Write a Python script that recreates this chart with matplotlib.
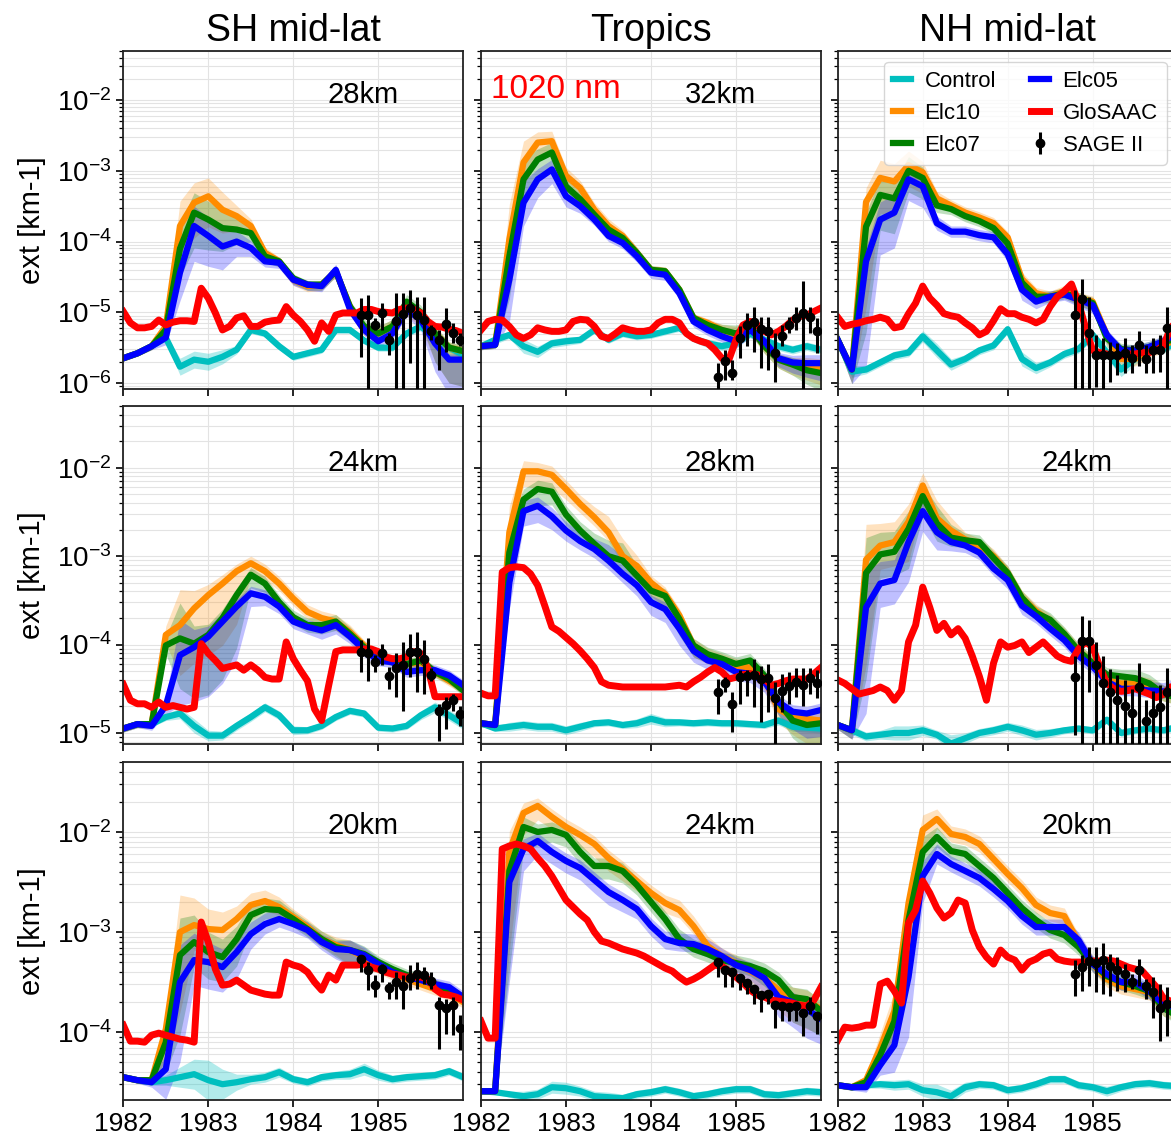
import numpy as np
import matplotlib
matplotlib.use('Agg')
import matplotlib.pyplot as plt

plt.rcParams['font.family'] = ['Liberation Sans', 'DejaVu Sans']
plt.rcParams['mathtext.fontset'] = 'dejavusans'

# ---- data: log10 of extinction [km-1] ----
# model runs every 2 months (Jan 1982 .. Jan 1986), GloSAAC monthly, SAGE II monthly Oct 1984 - Dec 1985
years_model = 1982 + np.arange(25) * 2 / 12
years_glo = 1982 + np.arange(49) / 12
years_sage = 1984 + (np.arange(15) + 9.5) / 12

regions = ['SH mid-lat', 'Tropics', 'NH mid-lat']

# --- SH mid-lat 28km ---
elc10_sh28 = [-5.65,-5.58,-5.48,-5.20,-3.78,-3.45,-3.36,-3.55,-3.64,-3.78,-4.16,-4.28,-4.54,-4.63,-4.61,-4.42,-4.92,-5.25,-5.30,-5.20,-4.95,-5.05,-5.30,-5.50,-5.55]
elc07_sh28 = [-5.65,-5.58,-5.48,-5.25,-4.10,-3.59,-3.69,-3.81,-3.83,-3.88,-4.21,-4.28,-4.52,-4.61,-4.61,-4.42,-4.92,-5.20,-5.30,-5.20,-4.85,-5.00,-5.30,-5.50,-5.55]
elc05_sh28 = [-5.65,-5.58,-5.48,-5.36,-4.44,-3.78,-3.92,-4.07,-4.00,-4.09,-4.28,-4.30,-4.54,-4.61,-4.63,-4.40,-4.96,-5.25,-5.41,-5.30,-4.96,-5.11,-5.44,-5.67,-5.67]
ctrl_sh28 = [-5.65,-5.58,-5.48,-5.36,-5.77,-5.67,-5.70,-5.63,-5.53,-5.25,-5.30,-5.48,-5.63,-5.58,-5.53,-5.25,-5.25,-5.40,-5.50,-5.50,-5.30,-5.20,-5.35,-5.50,-5.60]
glo_sh28 = [-4.99,-5.15,-5.22,-5.22,-5.20,-5.11,-5.18,-5.14,-5.12,-5.12,
            -5.13,-4.66,-4.80,-5.01,-5.25,-5.20,-5.08,-5.05,-5.20,-5.20,
            -5.14,-5.12,-5.11,-4.92,-5.04,-5.13,-5.25,-5.41,-5.15,-5.27,
            -5.04,-5.01,-5.01,-5.01,-4.96,-4.96,-4.99,-5.00,-5.01,-4.96,
            -4.94,-4.96,-5.01,-5.13,-5.20,-5.21,-5.24,-5.26,-5.30]
up_sh28 = [0.04,0.04,0.05,0.08,0.35,0.28,0.26,0.25,0.15,0.1,0.08,0.06,0.06,0.06,0.06,0.08,0.08,0.1,0.1,0.1,0.1,0.1,0.1,0.08,0.08]
dn_sh28 = [0.04,0.04,0.05,0.1,0.4,0.5,0.43,0.33,0.21,0.12,0.08,0.08,0.08,0.08,0.08,0.08,0.08,0.08,0.08,0.08,0.1,0.15,0.4,0.5,0.5]
csp_sh28 = [0.03,0.03,0.03,0.05,0.12,0.12,0.12,0.1,0.06,0.05,0.05,0.05,0.05,0.05,0.05,0.05,0.05,0.05,0.05,0.05,0.05,0.06,0.06,0.06,0.06]
sage_sh28 = [-5.04,-5.04,-5.18,-5.01,-5.39,-5.13,-5.02,-4.94,-5.04,-5.11,-5.27,-5.39,-5.16,-5.30,-5.39]
sage_hi_sh28 = [-4.80,-4.75,-5.08,-4.87,-5.30,-4.73,-4.73,-4.68,-4.78,-4.78,-5.18,-5.25,-4.94,-5.15,-5.30]
sage_lo_sh28 = [-5.63,-7,-5.25,-5.25,-5.60,-7,-7,-5.72,-7,-7,-5.39,-5.82,-5.56,-5.44,-5.48]  # -7: bar runs off the axis

# --- Tropics 32km ---
elc10_tr32 = [-5.48,-5.46,-3.97,-2.88,-2.60,-2.58,-3.07,-3.24,-3.55,-3.78,-3.92,-4.16,-4.40,-4.42,-4.68,-5.08,-5.15,-5.25,-5.32,-5.20,-5.48,-5.67,-5.74,-5.76,-5.78]
elc07_tr32 = [-5.48,-5.46,-4.21,-3.12,-2.84,-2.74,-3.22,-3.40,-3.62,-3.83,-3.95,-4.16,-4.40,-4.42,-4.68,-5.08,-5.18,-5.25,-5.30,-5.20,-5.48,-5.67,-5.74,-5.82,-5.86]
elc05_tr32 = [-5.48,-5.46,-4.54,-3.45,-3.12,-2.98,-3.36,-3.50,-3.69,-3.92,-4.02,-4.21,-4.44,-4.47,-4.73,-5.13,-5.25,-5.34,-5.41,-5.25,-5.41,-5.65,-5.71,-5.72,-5.72]
ctrl_tr32 = [-5.48,-5.39,-5.32,-5.48,-5.56,-5.44,-5.41,-5.39,-5.25,-5.39,-5.30,-5.34,-5.32,-5.27,-5.22,-5.37,-5.44,-5.48,-5.44,-5.30,-5.39,-5.48,-5.53,-5.48,-5.53]
glo_tr32 = [-5.25,-5.13,-5.10,-5.11,-5.20,-5.32,-5.37,-5.32,-5.22,-5.25,
            -5.27,-5.27,-5.25,-5.13,-5.10,-5.11,-5.20,-5.34,-5.37,-5.30,
            -5.22,-5.25,-5.27,-5.27,-5.25,-5.15,-5.10,-5.10,-5.15,-5.30,
            -5.37,-5.41,-5.44,-5.53,-5.65,-5.67,-5.39,-5.18,-5.13,-5.18,
            -5.27,-5.32,-5.27,-5.20,-5.11,-5.06,-5.04,-4.99,-4.94]
up_tr32 = [0.04,0.04,0.5,0.3,0.15,0.14,0.12,0.1,0.1,0.1,0.08,0.08,0.06,0.06,0.06,0.06,0.06,0.08,0.12,0.08,0.08,0.08,0.1,0.12,0.12]
dn_tr32 = [0.05,0.05,0.6,0.33,0.26,0.2,0.15,0.1,0.08,0.08,0.08,0.08,0.08,0.08,0.08,0.08,0.08,0.08,0.1,0.1,0.1,0.12,0.15,0.2,0.25]
csp_tr32 = [0.04,0.06,0.05,0.1,0.08,0.06,0.06,0.05,0.05,0.05,0.05,0.05,0.05,0.05,0.05,0.05,0.06,0.06,0.06,0.06,0.06,0.06,0.06,0.06,0.06]
sage_tr32 = [-5.91,-5.69,-5.86,-5.37,-5.18,-5.14,-5.24,-5.27,-5.58,-5.34,-5.18,-5.08,-5.01,-5.06,-5.27]
sage_hi_tr32 = [-5.72,-5.53,-5.67,-5.20,-5.01,-4.92,-5.06,-5.06,-5.30,-5.18,-5.06,-4.92,-4.56,-4.92,-5.08]
sage_lo_tr32 = [-7,-5.96,-5.96,-5.65,-5.48,-5.56,-5.79,-5.82,-5.98,-5.48,-5.30,-5.25,-7,-5.30,-5.58]

# --- NH mid-lat, top row ---
elc10_nh32 = [-5.39,-5.81,-3.44,-3.10,-3.15,-2.92,-3.02,-3.39,-3.49,-3.59,-3.66,-3.74,-3.94,-4.53,-4.73,-4.78,-4.70,-4.80,-4.85,-5.32,-5.66,-5.66,-5.54,-5.47,-5.37]
elc07_nh32 = [-5.39,-5.81,-3.79,-3.34,-3.39,-3.00,-3.10,-3.49,-3.54,-3.64,-3.71,-3.81,-4.03,-4.58,-4.78,-4.78,-4.73,-4.80,-4.87,-5.37,-5.52,-5.54,-5.49,-5.42,-5.37]
elc05_nh32 = [-5.39,-5.81,-4.28,-3.69,-3.59,-3.12,-3.22,-3.74,-3.86,-3.86,-3.91,-3.94,-4.18,-4.68,-4.85,-4.78,-4.75,-4.82,-4.90,-5.32,-5.54,-5.54,-5.49,-5.41,-5.29]
ctrl_nh32 = [-5.39,-5.84,-5.81,-5.71,-5.61,-5.57,-5.34,-5.54,-5.74,-5.66,-5.54,-5.47,-5.24,-5.66,-5.79,-5.71,-5.59,-5.52,-5.32,-5.57,-5.81,-5.66,-5.54,-5.52,-5.42]
glo_nh32 = [-5.07,-5.20,-5.17,-5.15,-5.12,-5.10,-5.07,-5.10,-5.22,-5.20,
            -5.02,-4.87,-4.63,-4.80,-4.90,-5.02,-5.05,-5.07,-5.15,-5.22,
            -5.32,-5.27,-5.12,-4.95,-5.02,-5.02,-5.07,-5.10,-5.15,-5.10,
            -4.92,-4.78,-4.70,-4.60,-4.87,-5.22,-5.54,-5.57,-5.59,-5.61,
            -5.61,-5.59,-5.59,-5.57,-5.57,-5.54,-5.47,-5.22,-5.12]
up_nh32 = [0.05,0.05,0.2,0.25,0.25,0.2,0.15,0.1,0.08,0.08,0.08,0.08,0.08,0.1,0.08,0.08,0.08,0.08,0.08,0.08,0.08,0.08,0.08,0.08,0.08]
dn_nh32 = [0.08,0.2,1.5,0.5,0.5,0.3,0.3,0.1,0.08,0.08,0.08,0.08,0.1,0.15,0.1,0.08,0.08,0.1,0.12,0.12,0.1,0.1,0.1,0.1,0.1]
csp_nh32 = [0.05,0.08,0.06,0.06,0.06,0.06,0.08,0.1,0.08,0.06,0.06,0.06,0.06,0.1,0.08,0.06,0.06,0.06,0.06,0.08,0.1,0.08,0.06,0.06,0.06]
sage_nh32 = [-5.04,-4.81,-5.29,-5.61,-5.61,-5.61,-5.61,-5.57,-5.64,-5.47,-5.66,-5.53,-5.53,-5.22,-5.22]
sage_hi_nh32 = [-4.68,-4.53,-4.78,-5.32,-5.37,-5.42,-5.44,-5.37,-5.47,-5.27,-5.47,-5.37,-5.32,-4.92,-4.92]
sage_lo_nh32 = [-7,-7,-7,-6.06,-6.16,-5.99,-5.89,-5.86,-5.86,-5.76,-5.86,-5.86,-5.84,-7,-7]

# --- SH mid-lat 24km ---
elc10_sh24 = [-4.95,-4.90,-4.90,-3.89,-3.78,-3.59,-3.44,-3.31,-3.17,-3.08,-3.17,-3.31,-3.48,-3.63,-3.70,-3.74,-3.86,-4.01,-4.12,-4.18,-4.22,-4.20,-4.31,-4.41,-4.50]
elc07_sh24 = [-4.95,-4.90,-4.90,-4.01,-3.93,-3.99,-3.89,-3.70,-3.44,-3.21,-3.31,-3.52,-3.69,-3.78,-3.78,-3.74,-3.88,-4.03,-4.14,-4.18,-4.22,-4.18,-4.31,-4.39,-4.52]
elc05_sh24 = [-4.95,-4.90,-4.92,-4.69,-4.12,-4.03,-3.91,-3.74,-3.57,-3.42,-3.46,-3.57,-3.74,-3.80,-3.84,-3.78,-3.91,-4.06,-4.18,-4.20,-4.31,-4.29,-4.29,-4.35,-4.46]
ctrl_sh24 = [-4.95,-4.90,-4.90,-4.82,-4.78,-4.92,-5.03,-5.03,-4.92,-4.82,-4.71,-4.80,-4.97,-4.97,-4.92,-4.82,-4.75,-4.78,-4.94,-4.95,-4.92,-4.80,-4.71,-4.80,-4.90]
glo_sh24 = [-4.45,-4.63,-4.67,-4.67,-4.71,-4.65,-4.71,-4.69,-4.71,-4.73,
            -4.71,-3.99,-4.10,-4.18,-4.27,-4.25,-4.23,-4.29,-4.23,-4.29,
            -4.37,-4.39,-4.39,-3.97,-4.16,-4.29,-4.41,-4.73,-4.86,-4.46,
            -4.08,-4.06,-4.06,-4.06,-4.05,-4.05,-4.08,-4.14,-4.16,-4.16,
            -4.14,-4.08,-4.10,-4.27,-4.59,-4.59,-4.59,-4.59,-4.59]
up_sh24 = [0.03,0.03,0.03,0.1,0.4,0.2,0.12,0.1,0.08,0.08,0.08,0.08,0.08,0.08,0.08,0.08,0.08,0.06,0.06,0.06,0.06,0.06,0.06,0.06,0.06]
dn_sh24 = [0.04,0.04,0.05,0.1,0.57,0.62,0.68,0.7,0.6,0.15,0.1,0.08,0.08,0.08,0.1,0.1,0.08,0.08,0.06,0.06,0.06,0.06,0.06,0.06,0.06]
csp_sh24 = [0.03,0.03,0.03,0.04,0.06,0.08,0.06,0.05,0.05,0.05,0.05,0.05,0.05,0.04,0.04,0.04,0.04,0.04,0.04,0.04,0.04,0.05,0.06,0.06,0.06]
sage_sh24 = [-4.08,-4.10,-4.20,-4.09,-4.35,-4.27,-4.23,-4.08,-4.08,-4.16,-4.34,-4.75,-4.68,-4.63,-4.78]
sage_hi_sh24 = [-3.95,-3.93,-4.12,-3.99,-4.25,-4.10,-3.97,-3.88,-3.86,-3.95,-4.27,-4.67,-4.59,-4.56,-4.69]
sage_lo_sh24 = [-4.31,-4.41,-4.31,-4.23,-4.50,-4.59,-4.75,-4.37,-4.54,-4.56,-4.41,-5.09,-4.95,-4.75,-4.92]

# --- Tropics 28km ---
elc10_tr28 = [-4.89,-4.91,-2.73,-2.04,-2.04,-2.08,-2.24,-2.41,-2.56,-2.73,-3.00,-3.11,-3.30,-3.43,-3.67,-4.01,-4.12,-4.18,-4.24,-4.26,-4.39,-4.73,-4.82,-4.84,-4.86]
elc07_tr28 = [-4.89,-4.91,-2.96,-2.36,-2.24,-2.27,-2.53,-2.71,-2.86,-3.00,-3.05,-3.22,-3.39,-3.45,-3.71,-4.01,-4.11,-4.16,-4.22,-4.18,-4.35,-4.65,-4.86,-4.91,-4.89]
elc05_tr28 = [-4.89,-4.91,-3.30,-2.49,-2.43,-2.55,-2.71,-2.83,-2.92,-3.05,-3.20,-3.33,-3.52,-3.60,-3.82,-4.07,-4.18,-4.22,-4.31,-4.33,-4.42,-4.65,-4.76,-4.78,-4.74]
ctrl_tr28 = [-4.89,-4.95,-4.93,-4.91,-4.93,-4.93,-4.97,-4.93,-4.89,-4.88,-4.91,-4.89,-4.84,-4.88,-4.88,-4.89,-4.88,-4.89,-4.89,-4.90,-4.91,-4.86,-4.93,-4.94,-4.95]
glo_tr28 = [-4.55,-4.58,-4.58,-3.18,-3.13,-3.12,-3.13,-3.20,-3.33,-3.56,
            -3.80,-3.85,-3.92,-3.99,-4.07,-4.16,-4.26,-4.42,-4.46,-4.47,
            -4.48,-4.48,-4.48,-4.48,-4.48,-4.48,-4.48,-4.47,-4.46,-4.48,
            -4.42,-4.37,-4.31,-4.26,-4.31,-4.39,-4.37,-4.34,-4.33,-4.34,
            -4.39,-4.46,-4.44,-4.41,-4.39,-4.39,-4.39,-4.33,-4.26]
up_tr28 = [0.04,0.04,0.3,0.12,0.1,0.1,0.1,0.1,0.12,0.18,0.2,0.12,0.08,0.08,0.08,0.08,0.08,0.08,0.08,0.08,0.08,0.08,0.08,0.08,0.08]
dn_tr28 = [0.04,0.04,0.3,0.17,0.19,0.15,0.12,0.1,0.1,0.1,0.1,0.12,0.15,0.15,0.19,0.13,0.1,0.1,0.1,0.1,0.12,0.15,0.2,0.28,0.3]
csp_tr28 = [0.03,0.03,0.05,0.05,0.05,0.05,0.05,0.05,0.04,0.04,0.04,0.05,0.06,0.05,0.04,0.04,0.04,0.04,0.04,0.04,0.04,0.05,0.05,0.05,0.05]
sage_tr28 = [-4.54,-4.43,-4.67,-4.37,-4.35,-4.34,-4.39,-4.38,-4.61,-4.52,-4.47,-4.42,-4.46,-4.38,-4.44]
sage_hi_tr28 = [-4.39,-4.37,-4.54,-4.29,-4.29,-4.16,-4.24,-4.22,-4.42,-4.33,-4.31,-4.26,-4.27,-4.26,-4.29]
sage_lo_tr28 = [-4.78,-4.54,-4.99,-4.67,-4.58,-4.71,-4.88,-4.76,-7,-4.76,-4.67,-4.59,-4.69,-4.56,-4.61]

# --- NH mid-lat 24km ---
elc10_nh24 = [-4.91,-4.97,-3.04,-2.88,-2.84,-2.61,-2.20,-2.57,-2.71,-2.81,-2.88,-3.00,-3.19,-3.47,-3.62,-3.74,-3.89,-4.07,-4.21,-4.40,-4.44,-4.44,-4.48,-4.56,-4.60]
elc07_nh24 = [-4.91,-4.97,-3.19,-2.98,-2.95,-2.69,-2.32,-2.63,-2.79,-2.82,-2.84,-3.02,-3.19,-3.47,-3.64,-3.72,-3.88,-4.07,-4.21,-4.34,-4.36,-4.38,-4.44,-4.56,-4.60]
elc05_nh24 = [-4.91,-4.97,-3.58,-3.31,-3.27,-2.84,-2.49,-2.73,-2.84,-2.88,-2.96,-3.14,-3.27,-3.56,-3.68,-3.82,-3.95,-4.13,-4.25,-4.42,-4.50,-4.50,-4.52,-4.53,-4.48]
ctrl_nh24 = [-4.91,-4.97,-5.04,-5.02,-5.00,-5.00,-4.97,-5.02,-5.12,-5.06,-5.00,-4.97,-4.93,-4.97,-5.02,-5.00,-4.97,-4.95,-4.97,-4.85,-5.00,-4.97,-4.95,-4.97,-4.93]
glo_nh24 = [-4.40,-4.44,-4.50,-4.56,-4.54,-4.52,-4.48,-4.52,-4.63,-4.52,
            -3.97,-3.78,-3.35,-3.58,-3.84,-3.76,-3.89,-3.82,-3.93,-4.13,
            -4.36,-4.63,-4.21,-3.97,-4.03,-4.01,-3.97,-4.09,-4.03,-3.97,
            -4.05,-4.13,-4.17,-4.19,-4.05,-3.97,-4.03,-4.25,-4.44,-4.50,
            -4.53,-4.52,-4.50,-4.53,-4.56,-4.60,-4.56,-4.48,-4.46]
up_nh24 = [0.04,0.04,0.4,0.25,0.23,0.2,0.14,0.2,0.15,0.08,0.08,0.08,0.08,0.08,0.08,0.08,0.08,0.08,0.08,0.08,0.08,0.1,0.1,0.1,0.1]
dn_nh24 = [0.05,0.1,1.2,0.27,0.27,0.45,0.23,0.2,0.1,0.08,0.08,0.08,0.1,0.1,0.08,0.08,0.08,0.08,0.08,0.08,0.08,0.08,0.08,0.08,0.08]
csp_nh24 = [0.03,0.05,0.05,0.05,0.08,0.08,0.06,0.05,0.1,0.06,0.05,0.05,0.05,0.06,0.06,0.05,0.04,0.04,0.04,0.04,0.04,0.04,0.04,0.04,0.04]
sage_nh24 = [-4.37,-3.96,-3.96,-4.23,-4.44,-4.54,-4.63,-4.69,-4.77,-4.48,-4.87,-4.77,-4.71,-4.54,-4.54]
sage_hi_nh24 = [-4.13,-3.68,-3.72,-3.97,-4.13,-4.28,-4.34,-4.40,-4.50,-4.21,-4.63,-4.52,-4.46,-4.26,-4.26]
sage_lo_nh24 = [-5.02,-7,-4.54,-7,-7,-7,-7,-7,-7,-7,-5.12,-7,-7,-7,-7]

# --- SH mid-lat 20km ---
elc10_sh20 = [-4.45,-4.48,-4.48,-3.97,-3.00,-2.93,-2.97,-2.98,-2.87,-2.73,-2.69,-2.75,-2.85,-2.95,-3.07,-3.13,-3.18,-3.25,-3.33,-3.42,-3.47,-3.52,-3.57,-3.62,-3.70]
elc07_sh20 = [-4.45,-4.48,-4.48,-4.10,-3.23,-3.10,-3.20,-3.25,-3.07,-2.83,-2.77,-2.78,-2.87,-2.97,-3.07,-3.15,-3.18,-3.22,-3.30,-3.37,-3.43,-3.47,-3.53,-3.58,-3.68]
elc05_sh20 = [-4.45,-4.48,-4.50,-4.37,-3.50,-3.28,-3.30,-3.35,-3.20,-3.02,-2.92,-2.87,-2.92,-2.98,-3.10,-3.17,-3.18,-3.23,-3.32,-3.40,-3.45,-3.48,-3.52,-3.55,-3.65]
ctrl_sh20 = [-4.45,-4.48,-4.50,-4.48,-4.45,-4.42,-4.48,-4.52,-4.50,-4.47,-4.45,-4.40,-4.47,-4.50,-4.45,-4.43,-4.42,-4.37,-4.43,-4.47,-4.45,-4.44,-4.43,-4.39,-4.45]
glo_sh20 = [-3.93,-4.09,-4.09,-4.10,-4.03,-4.01,-4.03,-4.05,-4.07,-4.08,
            -4.10,-2.90,-3.10,-3.37,-3.53,-3.52,-3.48,-3.53,-3.58,-3.60,
            -3.62,-3.63,-3.63,-3.30,-3.33,-3.35,-3.40,-3.50,-3.58,-3.43,
            -3.48,-3.33,-3.33,-3.33,-3.32,-3.35,-3.37,-3.40,-3.42,-3.43,
            -3.45,-3.45,-3.45,-3.47,-3.57,-3.62,-3.63,-3.65,-3.68]
up_sh20 = [0.03,0.03,0.03,0.15,0.37,0.27,0.2,0.18,0.13,0.12,0.11,0.1,0.08,0.08,0.08,0.08,0.1,0.08,0.06,0.06,0.06,0.06,0.06,0.06,0.06]
dn_sh20 = [0.03,0.03,0.05,0.3,0.8,0.25,0.27,0.25,0.27,0.15,0.1,0.08,0.08,0.08,0.08,0.1,0.15,0.12,0.08,0.06,0.06,0.06,0.06,0.06,0.06]
csp_sh20 = [0.02,0.02,0.03,0.05,0.1,0.15,0.2,0.15,0.08,0.05,0.05,0.05,0.04,0.04,0.04,0.04,0.05,0.06,0.05,0.04,0.04,0.04,0.04,0.04,0.04]
sage_sh20 = [-3.27,-3.38,-3.53,-3.37,-3.56,-3.50,-3.54,-3.46,-3.42,-3.43,-3.49,-3.73,-3.76,-3.73,-3.96]
sage_hi_sh20 = [-3.23,-3.30,-3.43,-3.32,-3.50,-3.40,-3.43,-3.33,-3.30,-3.35,-3.40,-3.65,-3.67,-3.65,-3.83]
sage_lo_sh20 = [-3.40,-3.58,-3.65,-3.50,-3.67,-3.67,-3.77,-3.58,-3.57,-3.52,-3.57,-4.17,-4.02,-4.03,-4.18]

# --- Tropics 24km ---
elc10_tr24 = [-4.59,-4.59,-2.19,-1.81,-1.74,-1.85,-1.95,-2.03,-2.12,-2.26,-2.37,-2.49,-2.61,-2.71,-2.78,-2.94,-3.14,-3.24,-3.31,-3.39,-3.46,-3.58,-3.65,-3.68,-3.77]
elc07_tr24 = [-4.59,-4.59,-2.39,-1.95,-2.00,-1.98,-2.03,-2.20,-2.34,-2.34,-2.39,-2.53,-2.70,-2.87,-3.07,-3.17,-3.22,-3.28,-3.31,-3.34,-3.39,-3.48,-3.65,-3.67,-3.79]
elc05_tr24 = [-4.59,-4.59,-2.50,-2.17,-2.09,-2.20,-2.29,-2.36,-2.48,-2.60,-2.68,-2.77,-2.94,-3.07,-3.11,-3.12,-3.17,-3.24,-3.33,-3.38,-3.46,-3.65,-3.70,-3.77,-3.87]
ctrl_tr24 = [-4.59,-4.60,-4.62,-4.64,-4.62,-4.55,-4.56,-4.59,-4.64,-4.65,-4.66,-4.62,-4.60,-4.57,-4.60,-4.64,-4.62,-4.59,-4.57,-4.57,-4.62,-4.63,-4.61,-4.59,-4.60]
glo_tr24 = [-3.89,-4.06,-4.06,-2.17,-2.14,-2.12,-2.14,-2.17,-2.26,-2.34,
            -2.44,-2.56,-2.68,-2.75,-2.82,-2.88,-3.00,-3.09,-3.11,-3.14,
            -3.17,-3.19,-3.21,-3.24,-3.28,-3.32,-3.36,-3.39,-3.45,-3.50,
            -3.47,-3.43,-3.38,-3.33,-3.34,-3.39,-3.45,-3.51,-3.58,-3.63,
            -3.65,-3.68,-3.69,-3.70,-3.71,-3.73,-3.74,-3.68,-3.55]
up_tr24 = [0.03,0.03,0.2,0.1,0.08,0.08,0.08,0.08,0.08,0.08,0.08,0.08,0.08,0.08,0.1,0.1,0.1,0.08,0.08,0.08,0.08,0.08,0.1,0.1,0.1]
dn_tr24 = [0.03,0.03,1.0,0.22,0.14,0.12,0.12,0.12,0.13,0.13,0.12,0.1,0.1,0.1,0.08,0.08,0.08,0.08,0.08,0.1,0.15,0.2,0.25,0.29,0.25]
csp_tr24 = [0.02,0.02,0.03,0.05,0.05,0.06,0.06,0.05,0.05,0.05,0.04,0.04,0.04,0.04,0.04,0.04,0.04,0.04,0.04,0.04,0.04,0.04,0.04,0.04,0.04]
sage_tr24 = [-3.30,-3.38,-3.40,-3.46,-3.51,-3.57,-3.63,-3.62,-3.73,-3.74,-3.75,-3.74,-3.81,-3.74,-3.84]
sage_hi_tr24 = [-3.28,-3.36,-3.38,-3.44,-3.49,-3.55,-3.61,-3.60,-3.71,-3.72,-3.73,-3.72,-3.79,-3.65,-3.82]
sage_lo_tr24 = [-3.45,-3.55,-3.55,-3.58,-3.62,-3.72,-3.80,-3.72,-3.96,-3.89,-3.89,-3.89,-4.04,-3.82,-4.02]

# --- NH mid-lat 20km ---
elc10_nh20 = [-4.53,-4.55,-4.48,-4.16,-3.79,-2.71,-1.98,-1.87,-2.02,-2.05,-2.12,-2.27,-2.42,-2.56,-2.73,-2.81,-2.84,-3.10,-3.32,-3.47,-3.54,-3.57,-3.60,-3.76,-3.81]
elc07_nh20 = [-4.53,-4.55,-4.50,-4.23,-3.89,-2.88,-2.20,-2.05,-2.19,-2.22,-2.34,-2.46,-2.61,-2.76,-2.88,-2.98,-3.03,-3.15,-3.32,-3.44,-3.50,-3.54,-3.59,-3.76,-3.84]
elc05_nh20 = [-4.53,-4.55,-4.55,-4.33,-4.13,-3.45,-2.44,-2.22,-2.32,-2.39,-2.46,-2.57,-2.69,-2.84,-2.95,-2.95,-2.95,-3.08,-3.32,-3.42,-3.50,-3.50,-3.59,-3.72,-3.76]
ctrl_nh20 = [-4.53,-4.55,-4.53,-4.52,-4.53,-4.52,-4.58,-4.60,-4.64,-4.55,-4.52,-4.53,-4.58,-4.56,-4.52,-4.47,-4.47,-4.53,-4.55,-4.59,-4.55,-4.52,-4.51,-4.53,-4.54]
glo_nh20 = [-4.08,-3.95,-3.96,-3.95,-3.93,-3.93,-3.52,-3.49,-3.59,-3.71,
            -2.91,-2.78,-2.49,-2.61,-2.76,-2.86,-2.81,-2.68,-2.71,-2.98,
            -3.15,-3.25,-3.32,-3.18,-3.25,-3.28,-3.38,-3.30,-3.27,-3.22,
            -3.20,-3.27,-3.29,-3.30,-3.30,-3.30,-3.29,-3.29,-3.28,-3.29,
            -3.32,-3.35,-3.37,-3.39,-3.47,-3.55,-3.66,-3.69,-3.72]
up_nh20 = [0.03,0.03,0.05,0.15,0.2,0.17,0.15,0.1,0.08,0.08,0.08,0.08,0.08,0.08,0.08,0.08,0.08,0.08,0.08,0.08,0.08,0.08,0.08,0.08,0.08]
dn_nh20 = [0.03,0.03,0.05,0.1,0.27,0.6,0.27,0.1,0.08,0.08,0.08,0.08,0.08,0.08,0.08,0.08,0.08,0.08,0.08,0.08,0.08,0.08,0.08,0.08,0.08]
csp_nh20 = [0.02,0.03,0.03,0.04,0.05,0.05,0.06,0.08,0.06,0.05,0.04,0.04,0.04,0.04,0.04,0.04,0.04,0.04,0.04,0.05,0.04,0.04,0.04,0.04,0.04]
sage_nh20 = [-3.42,-3.35,-3.29,-3.31,-3.28,-3.34,-3.38,-3.42,-3.50,-3.38,-3.54,-3.60,-3.76,-3.72,-3.72]
sage_hi_nh20 = [-3.28,-3.23,-3.15,-3.15,-3.11,-3.22,-3.25,-3.32,-3.42,-3.27,-3.47,-3.45,-3.52,-3.55,-3.55]
sage_lo_nh20 = [-3.64,-3.59,-3.54,-3.60,-3.62,-3.64,-3.59,-3.60,-3.57,-3.54,-3.67,-3.86,-4.09,-4.04,-4.04]

# panel table built from the lists above (row by row)
panels = [
    [('28km', elc10_sh28, elc07_sh28, elc05_sh28, ctrl_sh28, glo_sh28, up_sh28, dn_sh28, csp_sh28, sage_sh28, sage_lo_sh28, sage_hi_sh28),
     ('32km', elc10_tr32, elc07_tr32, elc05_tr32, ctrl_tr32, glo_tr32, up_tr32, dn_tr32, csp_tr32, sage_tr32, sage_lo_tr32, sage_hi_tr32),
     ('', elc10_nh32, elc07_nh32, elc05_nh32, ctrl_nh32, glo_nh32, up_nh32, dn_nh32, csp_nh32, sage_nh32, sage_lo_nh32, sage_hi_nh32)],
    [('24km', elc10_sh24, elc07_sh24, elc05_sh24, ctrl_sh24, glo_sh24, up_sh24, dn_sh24, csp_sh24, sage_sh24, sage_lo_sh24, sage_hi_sh24),
     ('28km', elc10_tr28, elc07_tr28, elc05_tr28, ctrl_tr28, glo_tr28, up_tr28, dn_tr28, csp_tr28, sage_tr28, sage_lo_tr28, sage_hi_tr28),
     ('24km', elc10_nh24, elc07_nh24, elc05_nh24, ctrl_nh24, glo_nh24, up_nh24, dn_nh24, csp_nh24, sage_nh24, sage_lo_nh24, sage_hi_nh24)],
    [('20km', elc10_sh20, elc07_sh20, elc05_sh20, ctrl_sh20, glo_sh20, up_sh20, dn_sh20, csp_sh20, sage_sh20, sage_lo_sh20, sage_hi_sh20),
     ('24km', elc10_tr24, elc07_tr24, elc05_tr24, ctrl_tr24, glo_tr24, up_tr24, dn_tr24, csp_tr24, sage_tr24, sage_lo_tr24, sage_hi_tr24),
     ('20km', elc10_nh20, elc07_nh20, elc05_nh20, ctrl_nh20, glo_nh20, up_nh20, dn_nh20, csp_nh20, sage_nh20, sage_lo_nh20, sage_hi_nh20)],
]

row_ylim = [(8.3e-7, 5e-2), (7.5e-6, 5e-2), (2.1e-5, 5e-2)]
label_y = [0.87, 0.83, 0.81]

fig, axes = plt.subplots(3, 3, figsize=(11.71, 11.38), dpi=100, sharex=True, sharey='row')

W, H = 1171.0, 1138.0
col_left = [123.3, 481.0, 837.7]
row_top = [50.7, 406.0, 762.0]
aw, ah = 340.0, 338.0

for r in range(3):
    for c in range(3):
        ax = axes[r][c]
        ax.set_position([col_left[c] / W, 1 - (row_top[r] + ah) / H, aw / W, ah / H])
        lab, e10, e07, e05, ctl, glo, up, dn, csp, sg, sg_lo, sg_hi = panels[r][c]
        e10, e07, e05, ctl = map(np.array, (e10, e07, e05, ctl))
        up, dn, csp = np.array(up), np.array(dn), np.array(csp)

        # ensemble spread shading
        ax.fill_between(years_model, 10**(ctl - csp), 10**(ctl + csp), color='c', alpha=0.3, lw=0)
        ax.fill_between(years_model, 10**(e10 - dn), 10**(e10 + up), color='darkorange', alpha=0.25, lw=0)
        ax.fill_between(years_model, 10**(e07 - dn), 10**(e07 + up), color='green', alpha=0.25, lw=0)
        ax.fill_between(years_model, 10**(e05 - dn), 10**(e05 + up), color='blue', alpha=0.25, lw=0)

        l_ctl, = ax.plot(years_model, 10**ctl, color='c', lw=4.5, label='Control')
        l_10, = ax.plot(years_model, 10**e10, color='darkorange', lw=4.5, label='Elc10')
        l_07, = ax.plot(years_model, 10**e07, color='green', lw=4.5, label='Elc07')
        l_05, = ax.plot(years_model, 10**e05, color='blue', lw=4.5, label='Elc05')
        l_glo, = ax.plot(years_glo, 10**np.array(glo), color='red', lw=5, label='GloSAAC')

        sv = 10**np.array(sg)
        yerr = [sv - 10**np.array(sg_lo), 10**np.array(sg_hi) - sv]
        e_sg = ax.errorbar(years_sage, sv, yerr=yerr, fmt='o', color='k', ms=6,
                           elinewidth=2.2, capsize=0, zorder=6, label='SAGE II')

        ax.set_yscale('log')
        ax.set_ylim(*row_ylim[r])
        ax.set_xlim(1982, 1986)
        ax.set_xticks([1982, 1983, 1984, 1985])
        ax.grid(True, which='both', color='#e3e3e3', lw=0.8)
        ax.set_axisbelow(True)
        ax.tick_params(which='major', direction='out', length=5, width=1.2)
        ax.tick_params(which='minor', direction='out', length=3, width=0.9)
        ax.tick_params(axis='y', labelsize=20)
        ax.tick_params(axis='x', labelsize=19)
        for s in ax.spines.values():
            s.set_linewidth(1.3)
            s.set_color('#222222')

        if lab:
            ax.text(0.60, label_y[r], lab, transform=ax.transAxes, fontsize=21, va='center')
        if r == 0:
            ax.set_title(regions[c], fontsize=27, pad=7)
        if c == 0:
            ax.set_ylabel('ext [km-1]', fontsize=21, labelpad=8)

        if r == 0 and c == 2:
            ax.legend([l_ctl, l_10, l_07, l_05, l_glo, e_sg],
                      ['Control', 'Elc10', 'Elc07', 'Elc05', 'GloSAAC', 'SAGE II'],
                      loc='upper right', ncol=2, fontsize=16, handlelength=0.8,
                      handletextpad=0.6, columnspacing=1.6)

axes[0][1].text(0.03, 0.884, '1020 nm', color='red', fontsize=24,
                transform=axes[0][1].transAxes, va='center')

fig.savefig('out.png', dpi=100)
